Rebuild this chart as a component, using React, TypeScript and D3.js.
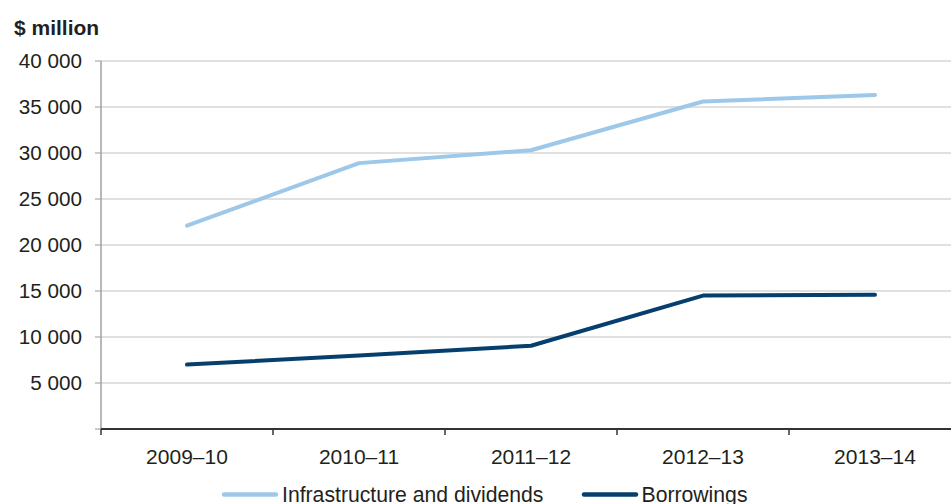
import React from "react";
import * as d3 from "d3";

const years = ["2009–10", "2010–11", "2011–12", "2012–13", "2013–14"];
const infrastructure = [22100, 28900, 30300, 35600, 36300];
const borrowings = [7000, 8000, 9050, 14500, 14600];
const yTicks = [5000, 10000, 15000, 20000, 25000, 30000, 35000, 40000];

const W = 951;
const H = 504;
const left = 101;
const right = 961;
const top = 61;
const bottom = 429;
const FONT = "'Liberation Sans', Arial, sans-serif";

const series = [
  { name: "Infrastructure and dividends", values: infrastructure, color: "#9DC8E9" },
  { name: "Borrowings", values: borrowings, color: "#063F6E" },
];

export default function App() {
  const x = d3.scaleBand<string>().domain(years).range([left, right]).padding(0);
  const y = d3.scaleLinear().domain([0, 40000]).range([bottom, top]);
  const cx = (c: string) => (x(c) as number) + x.bandwidth() / 2;
  const fmt = (v: number) => d3.format(",")(v).replace(/,/g, " ");

  const line = d3
    .line<number>()
    .x((_, i) => cx(years[i]))
    .y((v) => y(v));

  const boundaries = years.map((c) => x(c) as number).concat([right]);

  return (
    <svg
      width={W}
      height={H}
      style={{ position: "absolute", left: 0, top: 0, background: "#fff" }}
      fontFamily={FONT}
    >
      <text x={14} y={35} fontSize={21} fontWeight="bold" fill="#231f20">
        $ million
      </text>

      {/* horizontal gridlines and y ticks */}
      {yTicks.map((t) => (
        <g key={t}>
          <line x1={left} x2={W} y1={y(t)} y2={y(t)} stroke="#d6d6d6" strokeWidth={1.5} />
          <line x1={95} x2={left} y1={y(t)} y2={y(t)} stroke="#9a9a9a" strokeWidth={1} />
          <text x={82} y={y(t) + 6.6} textAnchor="end" fontSize={20.7} fill="#231f20">
            {fmt(t)}
          </text>
        </g>
      ))}
      <line x1={95} x2={left} y1={bottom} y2={bottom} stroke="#9a9a9a" strokeWidth={1} />

      {/* y axis */}
      <line x1={left} x2={left} y1={top} y2={bottom} stroke="#a0a0a0" strokeWidth={1.5} />

      {/* x axis */}
      <line x1={left} x2={W} y1={bottom} y2={bottom} stroke="#333" strokeWidth={2} />
      {boundaries.map((b, i) => (
        <line key={i} x1={b} x2={b} y1={bottom} y2={bottom + 6} stroke="#333" strokeWidth={1.5} />
      ))}
      {years.map((c) => (
        <text key={c} x={cx(c)} y={463.5} textAnchor="middle" fontSize={21} fill="#231f20">
          {c}
        </text>
      ))}

      {/* series lines */}
      {series.map((s) => (
        <path
          key={s.name}
          d={line(s.values) as string}
          fill="none"
          stroke={s.color}
          strokeWidth={4}
          strokeLinecap="round"
          strokeLinejoin="round"
        />
      ))}

      {/* legend */}
      <g>
        <line x1={224} x2={276} y1={494.5} y2={494.5} stroke={series[0].color} strokeWidth={4.5} strokeLinecap="round" />
        <text x={282} y={501.5} fontSize={21.2} fill="#231f20">
          {series[0].name}
        </text>
        <line x1={584} x2={636} y1={494.5} y2={494.5} stroke={series[1].color} strokeWidth={4.5} strokeLinecap="round" />
        <text x={641.5} y={501.5} fontSize={21.2} fill="#231f20">
          {series[1].name}
        </text>
      </g>
    </svg>
  );
}
